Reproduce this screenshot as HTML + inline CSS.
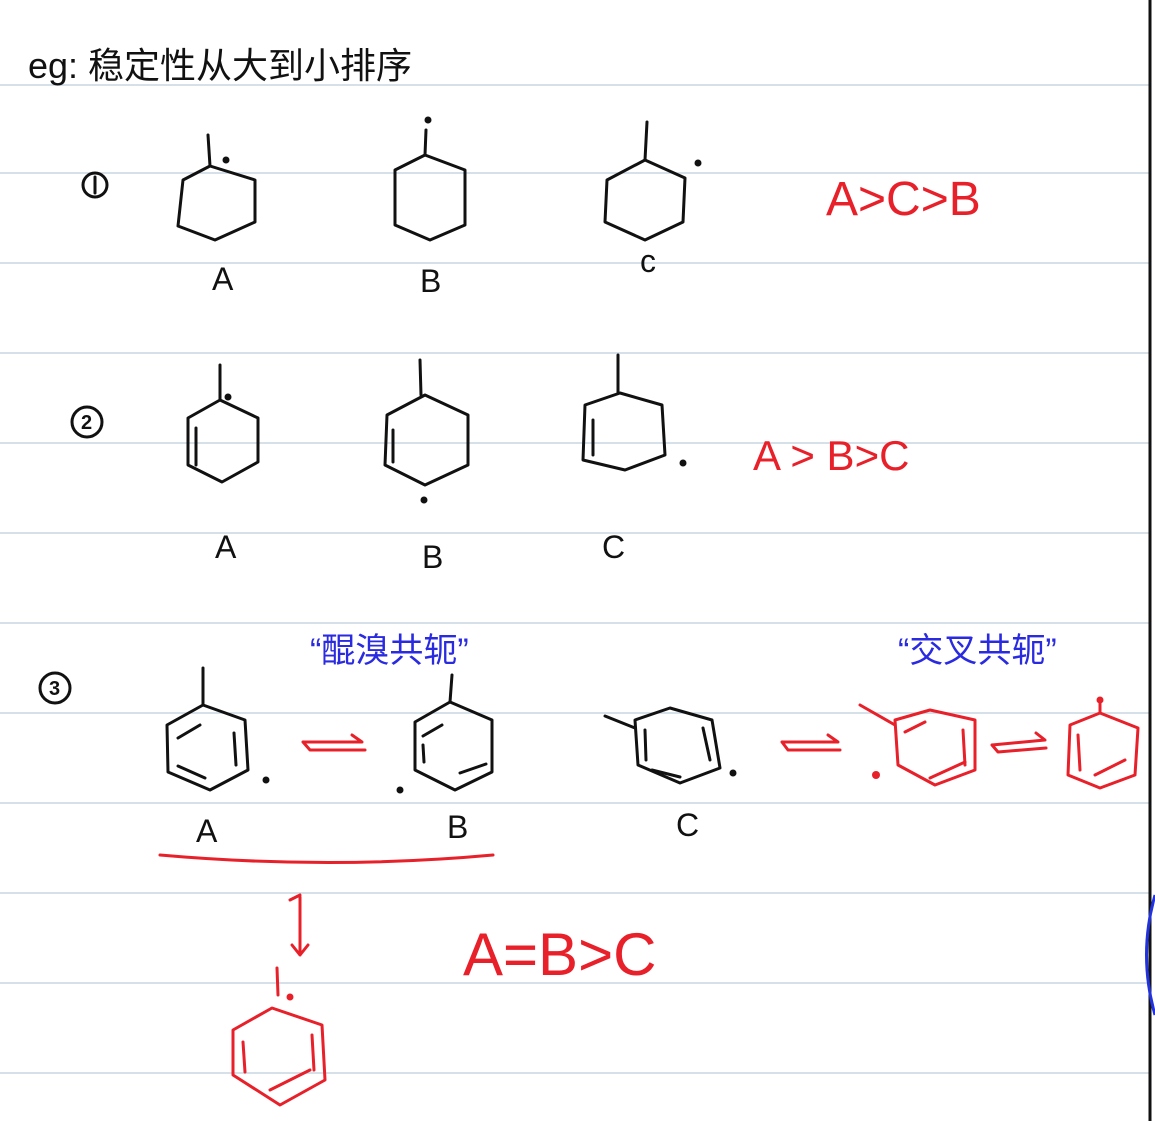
<!DOCTYPE html>
<html><head><meta charset="utf-8"><style>
html,body{margin:0;padding:0;background:#fff;width:1155px;height:1121px;overflow:hidden}
svg{display:block}
text{font-family:"Liberation Sans","Noto Sans CJK SC",sans-serif}
</style></head><body>
<svg width="1155" height="1121" viewBox="0 0 1155 1121" xmlns="http://www.w3.org/2000/svg">
<g stroke="#c9d6e0" stroke-width="1.5">
<line x1="0" y1="85" x2="1150" y2="85"/><line x1="0" y1="173" x2="1150" y2="173"/>
<line x1="0" y1="263" x2="1150" y2="263"/><line x1="0" y1="353" x2="1150" y2="353"/>
<line x1="0" y1="443" x2="1150" y2="443"/><line x1="0" y1="533" x2="1150" y2="533"/>
<line x1="0" y1="623" x2="1150" y2="623"/><line x1="0" y1="713" x2="1150" y2="713"/>
<line x1="0" y1="803" x2="1150" y2="803"/><line x1="0" y1="893" x2="1150" y2="893"/>
<line x1="0" y1="983" x2="1150" y2="983"/><line x1="0" y1="1073" x2="1150" y2="1073"/>
</g>
<line x1="1150" y1="0" x2="1150" y2="1121" stroke="#111" stroke-width="3"/>
<path d="M1155 895 Q1138 955 1155 1015" fill="none" stroke="#2233dd" stroke-width="3"/>
<text x="28" y="78" font-size="36" fill="#111">eg: 稳定性从大到小排序</text>
<g fill="none" stroke="#111" stroke-width="3" stroke-linecap="round" stroke-linejoin="round">
<circle cx="95" cy="185" r="12"/><line x1="95" y1="177" x2="95" y2="193"/>
<circle cx="87" cy="422" r="15"/><circle cx="55" cy="688" r="15"/>
<polygon points="183,180 210,166 255,180 255,222 215,240 178,226"/><line x1="210" y1="166" x2="208" y2="135"/>
<polygon points="395,170 425,155 465,170 465,225 430,240 395,225"/><line x1="425" y1="155" x2="426" y2="130"/>
<polygon points="607,180 645,160 685,178 683,222 645,240 605,222"/><line x1="645" y1="160" x2="647" y2="122"/>
<polygon points="188,418 220,400 258,418 258,462 222,482 188,465"/><line x1="196" y1="428" x2="196" y2="465"/><line x1="220" y1="400" x2="220" y2="365"/>
<polygon points="387,415 425,395 468,415 468,465 425,485 385,465"/><line x1="393" y1="430" x2="393" y2="462"/><line x1="421" y1="395" x2="420" y2="360"/>
<polygon points="585,405 620,393 662,405 665,455 625,470 583,460"/><line x1="593" y1="420" x2="593" y2="455"/><line x1="618" y1="393" x2="618" y2="355"/>
<polygon points="167,725 203,705 245,720 248,770 210,790 168,772"/><line x1="178" y1="738" x2="200" y2="725"/><line x1="234" y1="733" x2="236" y2="765"/><line x1="178" y1="766" x2="205" y2="778"/><line x1="203" y1="705" x2="203" y2="668"/>
<polygon points="415,722 450,702 492,720 492,772 455,790 415,770"/><line x1="423" y1="736" x2="442" y2="725"/><line x1="423" y1="745" x2="424" y2="762"/><line x1="460" y1="773" x2="486" y2="764"/><line x1="450" y1="702" x2="452" y2="675"/>
<polygon points="635,720 670,708 712,720 720,768 680,783 638,765"/><line x1="645" y1="730" x2="646" y2="760"/><line x1="652" y1="770" x2="680" y2="777"/><line x1="703" y1="728" x2="710" y2="760"/><line x1="605" y1="716" x2="635" y2="728"/>
</g>
<g font-size="20" fill="#111" font-weight="bold"><text x="81" y="429">2</text><text x="49" y="695">3</text></g>
<g fill="#111"><circle cx="226" cy="160" r="3.5"/><circle cx="428" cy="120" r="3.5"/><circle cx="698" cy="163" r="3.5"/>
<circle cx="228" cy="397" r="3.5"/><circle cx="424" cy="500" r="3.5"/><circle cx="683" cy="463" r="3.5"/>
<circle cx="266" cy="780" r="3.5"/><circle cx="400" cy="790" r="3.5"/><circle cx="733" cy="773" r="3.5"/></g>
<g font-size="32" fill="#111">
<text x="212" y="290">A</text><text x="420" y="292">B</text><text x="640" y="272">c</text>
<text x="215" y="558">A</text><text x="422" y="568">B</text><text x="602" y="558">C</text>
<text x="196" y="842">A</text><text x="447" y="838">B</text><text x="676" y="836">C</text>
</g>
<g fill="#e8202a">
<text x="826" y="215" font-size="48">A&gt;C&gt;B</text>
<text x="753" y="470" font-size="42">A &gt; B&gt;C</text>
<text x="463" y="975" font-size="60">A=B&gt;C</text>
</g>
<g fill="none" stroke="#e8202a" stroke-width="3" stroke-linecap="round" stroke-linejoin="round">
<path d="M303 742 L362 742 L352 735 M303 742 L310 750 L365 750"/>
<path d="M782 742 L838 742 L828 735 M782 742 L788 750 L840 750"/>
<path d="M992 745 L1045 740 L1036 733 M992 745 L998 752 L1046 748"/>
<path d="M160 855 Q330 870 493 855"/>
<path d="M300 897 L300 955 L292 945 M300 955 L308 945 M290 900 L300 895"/>
<polygon points="895,720 930,710 975,720 975,770 935,785 898,765"/><line x1="905" y1="732" x2="925" y2="722"/><line x1="930" y1="778" x2="965" y2="762"/><line x1="963" y1="730" x2="965" y2="765"/><line x1="860" y1="705" x2="895" y2="725"/>
<polygon points="1070,725 1100,713 1138,728 1135,775 1100,788 1068,775"/><line x1="1078" y1="735" x2="1080" y2="770"/><line x1="1095" y1="775" x2="1125" y2="760"/><line x1="1100" y1="713" x2="1100" y2="702"/>
<polygon points="233,1030 272,1008 322,1025 325,1080 280,1105 233,1075"/><line x1="243" y1="1042" x2="245" y2="1072"/><line x1="270" y1="1090" x2="310" y2="1070"/><line x1="312" y1="1035" x2="314" y2="1070"/><line x1="277" y1="968" x2="278" y2="995"/>
</g>
<g fill="#e8202a"><circle cx="876" cy="775" r="4"/><circle cx="1100" cy="700" r="3.5"/><circle cx="290" cy="997" r="3.5"/></g>
<g fill="#2a2ae0" font-size="34">
<text x="310" y="662">“醌溴共轭”</text>
<text x="898" y="662">“交叉共轭”</text>
</g>
</svg>
</body></html>
